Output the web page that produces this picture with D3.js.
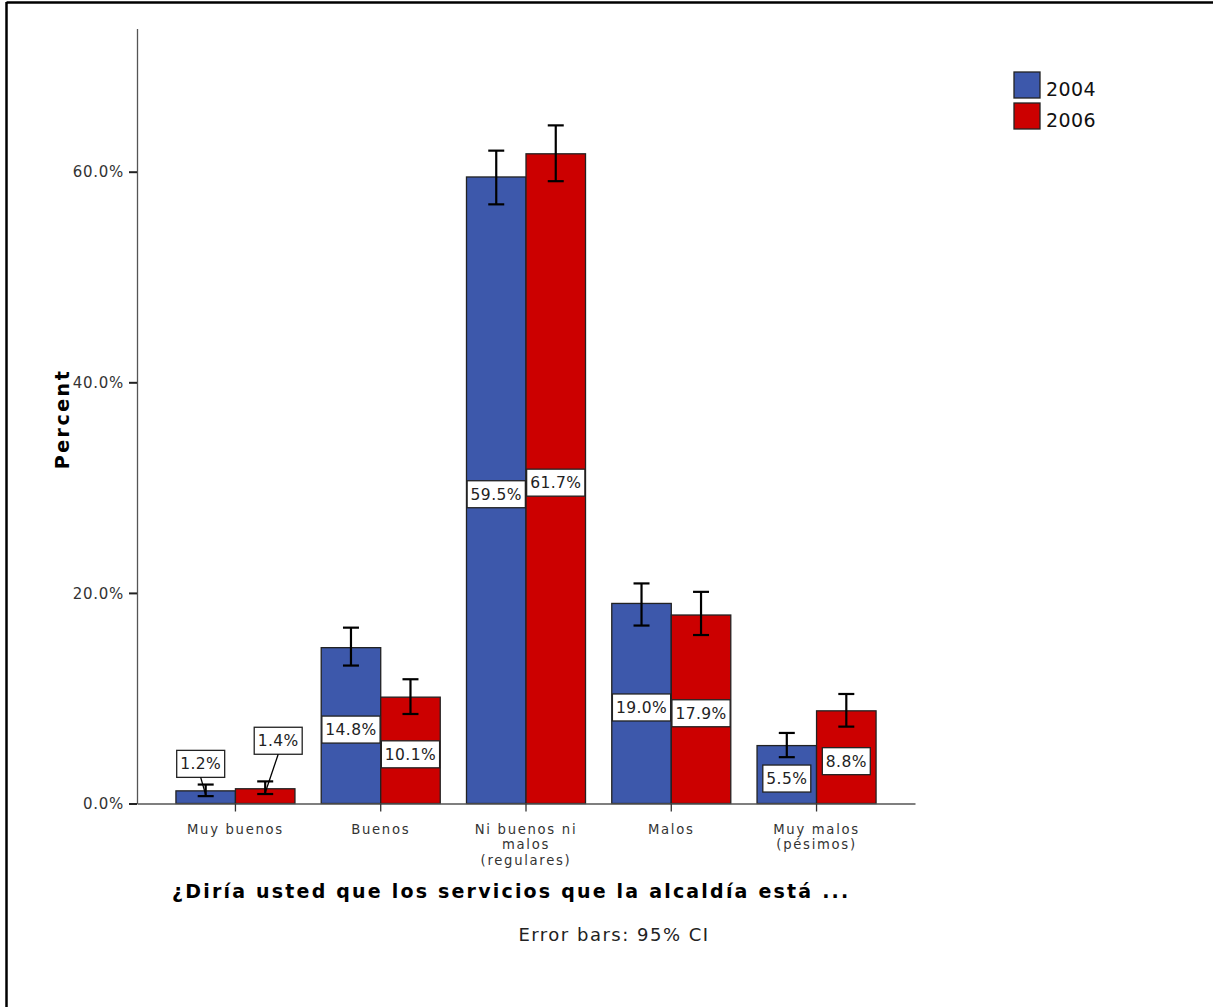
<!DOCTYPE html>
<html><head><meta charset="utf-8">
<script src="https://cdn.jsdelivr.net/npm/d3@7"></script>
<style>body{margin:0;background:#fff} svg{display:block}</style>
</head><body><svg id="c" width="1213" height="1007"></svg>
<script>
const categories = ["Muy buenos","Buenos","Ni buenos ni malos (regulares)","Malos","Muy malos (pésimos)"];
const categoryLines = [["Muy buenos"],["Buenos"],["Ni buenos ni","malos","(regulares)"],["Malos"],["Muy malos","(pésimos)"]];
const years = ["2004","2006"];
const values2004 = [1.2,14.8,59.5,19.0,5.5];
const values2006 = [1.4,10.1,61.7,17.9,8.8];
const ciLow2004 = [0.7,13.1,56.9,16.9,4.4];
const ciHigh2004 = [1.8,16.7,62.0,20.9,6.7];
const ciLow2006 = [0.9,8.5,59.1,16.0,7.3];
const ciHigh2006 = [2.1,11.8,64.4,20.1,10.4];
const yTicks = [0,20,40,60];
const yTitle = "Percent";
const xTitle = "¿Diría usted que los servicios que la alcaldía está ...";
const footnote = "Error bars: 95% CI";

const colors = {"2004":"#3D58AB","2006":"#CC0000"};
const FONT = "'DejaVu Sans', Verdana, sans-serif";

const svg = d3.select("#c");
svg.append("rect").attr("width",1213).attr("height",1007).attr("fill","#fff");
// frame
svg.append("line").attr("x1",6.5).attr("x2",1213).attr("y1",2.5).attr("y2",2.5).attr("stroke","#000").attr("stroke-width",2.5);
svg.append("line").attr("x1",6.5).attr("x2",6.5).attr("y1",2).attr("y2",1007).attr("stroke","#000").attr("stroke-width",2.5);

const y = d3.scaleLinear().domain([0,73.6]).range([803.5,28.5]);
const x = d3.scaleBand().domain(categories).range([137,915]).paddingInner(0.1807).paddingOuter(0.268);
const x1 = d3.scaleBand().domain(years).range([0,x.bandwidth()]);

const rows = categories.map((c,i)=>({
  cat:c, i,
  series:[
    {year:"2004", v:values2004[i], lo:ciLow2004[i], hi:ciHigh2004[i]},
    {year:"2006", v:values2006[i], lo:ciLow2006[i], hi:ciHigh2006[i]}
  ]
}));

// y axis
const yAxis = svg.append("g").attr("transform",`translate(${x.range()[0]},0)`)
  .call(d3.axisLeft(y).tickValues(yTicks).tickFormat(d=>d.toFixed(1)+"%").tickSize(8).tickSizeOuter(0));
yAxis.select(".domain").attr("stroke","#555").attr("stroke-width",1.3);
yAxis.selectAll(".tick line").attr("stroke","#222").attr("stroke-width",2);
yAxis.selectAll(".tick text").attr("font-family",FONT).attr("font-size",15).attr("letter-spacing",0.7)
  .attr("fill","#333").attr("x",-13).attr("dy","0.35em");

// bars
const g = svg.append("g");
const cg = g.selectAll("g.cat").data(rows).join("g").attr("class","cat")
  .attr("transform",d=>`translate(${x(d.cat)},0)`);
cg.selectAll("rect").data(d=>d.series).join("rect")
  .attr("x",d=>x1(d.year)).attr("width",x1.bandwidth())
  .attr("y",d=>y(d.v)).attr("height",d=>y(0)-y(d.v))
  .attr("fill",d=>colors[d.year]).attr("stroke","#222").attr("stroke-width",1.3);

// x axis
const xAxis = svg.append("g").attr("transform",`translate(0,${y(0)})`)
  .call(d3.axisBottom(x).tickSize(8).tickSizeOuter(0).tickFormat(""));
xAxis.select(".domain").attr("stroke","#555").attr("stroke-width",1.3);
xAxis.selectAll(".tick line").attr("stroke","#333").attr("stroke-width",1.3);
xAxis.selectAll(".tick").each(function(d,i){
  const t = d3.select(this).append("text").attr("text-anchor","middle").attr("fill","#333")
    .attr("font-family",FONT).attr("font-size",13.2).attr("letter-spacing",1.7).attr("y",30);
  categoryLines[i].forEach((ln,k)=>{
    t.append("tspan").attr("x",0).attr("dy",k===0?0:15.5).text(ln);
  });
});

// error bars
cg.each(function(d){
  const gg = d3.select(this);
  d.series.forEach(s=>{
    const cx = x1(s.year)+x1.bandwidth()/2;
    const e = gg.append("g").attr("stroke","#000").attr("stroke-width",2.2);
    e.append("line").attr("x1",cx).attr("x2",cx).attr("y1",y(s.hi)).attr("y2",y(s.lo));
    e.append("line").attr("x1",cx-8).attr("x2",cx+8).attr("y1",y(s.hi)).attr("y2",y(s.hi));
    e.append("line").attr("x1",cx-8).attr("x2",cx+8).attr("y1",y(s.lo)).attr("y2",y(s.lo));
  });
});

// value labels
const outsideOffset = {"2004":{dx:-5,dy:-27},"2006":{dx:13,dy:-48}};
cg.each(function(d){
  const gg = d3.select(this);
  d.series.forEach(s=>{
    const cx = x1(s.year)+x1.bandwidth()/2;
    const lab = s.v.toFixed(1)+"%";
    let bx, by;
    const outside = s.v < 3;
    if(outside){
      bx = cx + outsideOffset[s.year].dx;
      by = y(s.v) + outsideOffset[s.year].dy;
    } else {
      bx = cx; by = y(s.v/2)+4;
    }
    const lg = gg.append("g");
    const rect = lg.append("rect");
    const t = lg.append("text").attr("x",bx).attr("y",by).attr("dy","0.36em")
      .attr("text-anchor","middle").attr("font-family",FONT).attr("font-size",15.5).attr("letter-spacing",0.4)
      .attr("fill","#222").text(lab);
    const bb = t.node().getBBox();
    const w = bb.width+7, h = 27;
    rect.attr("x",bx-w/2).attr("y",by-h/2).attr("width",w).attr("height",h)
      .attr("fill","#fff").attr("stroke","#222").attr("stroke-width",1.3);
    if(outside){
      lg.append("line").attr("x1",bx).attr("y1",by+h/2).attr("x2",cx).attr("y2",y(s.v)+4)
        .attr("stroke","#000").attr("stroke-width",1.3);
    }
  });
});

// titles
svg.append("text").attr("transform","translate(69,419) rotate(-90)").attr("text-anchor","middle")
  .attr("font-family",FONT).attr("font-weight","bold").attr("font-size",19).attr("letter-spacing",2.5)
  .attr("fill","#000").text(yTitle);
svg.append("text").attr("x",172).attr("y",898).attr("font-family",FONT).attr("font-weight","bold")
  .attr("font-size",19).attr("letter-spacing",2.2).attr("fill","#000").text(xTitle);
svg.append("text").attr("x",614).attr("y",941).attr("text-anchor","middle").attr("font-family",FONT)
  .attr("font-size",18).attr("letter-spacing",1.5).attr("fill","#222").text(footnote);

// legend
const leg = svg.append("g").attr("transform","translate(1014,72)");
const li = leg.selectAll("g").data(years).join("g").attr("transform",(d,i)=>`translate(0,${i*31})`);
li.append("rect").attr("width",26).attr("height",26).attr("fill",d=>colors[d]).attr("stroke","#222").attr("stroke-width",1.3);
li.append("text").attr("x",32).attr("y",24).attr("font-family",FONT).attr("font-size",19).attr("letter-spacing",0.4).attr("fill","#111").text(d=>d);
</script></body></html>
